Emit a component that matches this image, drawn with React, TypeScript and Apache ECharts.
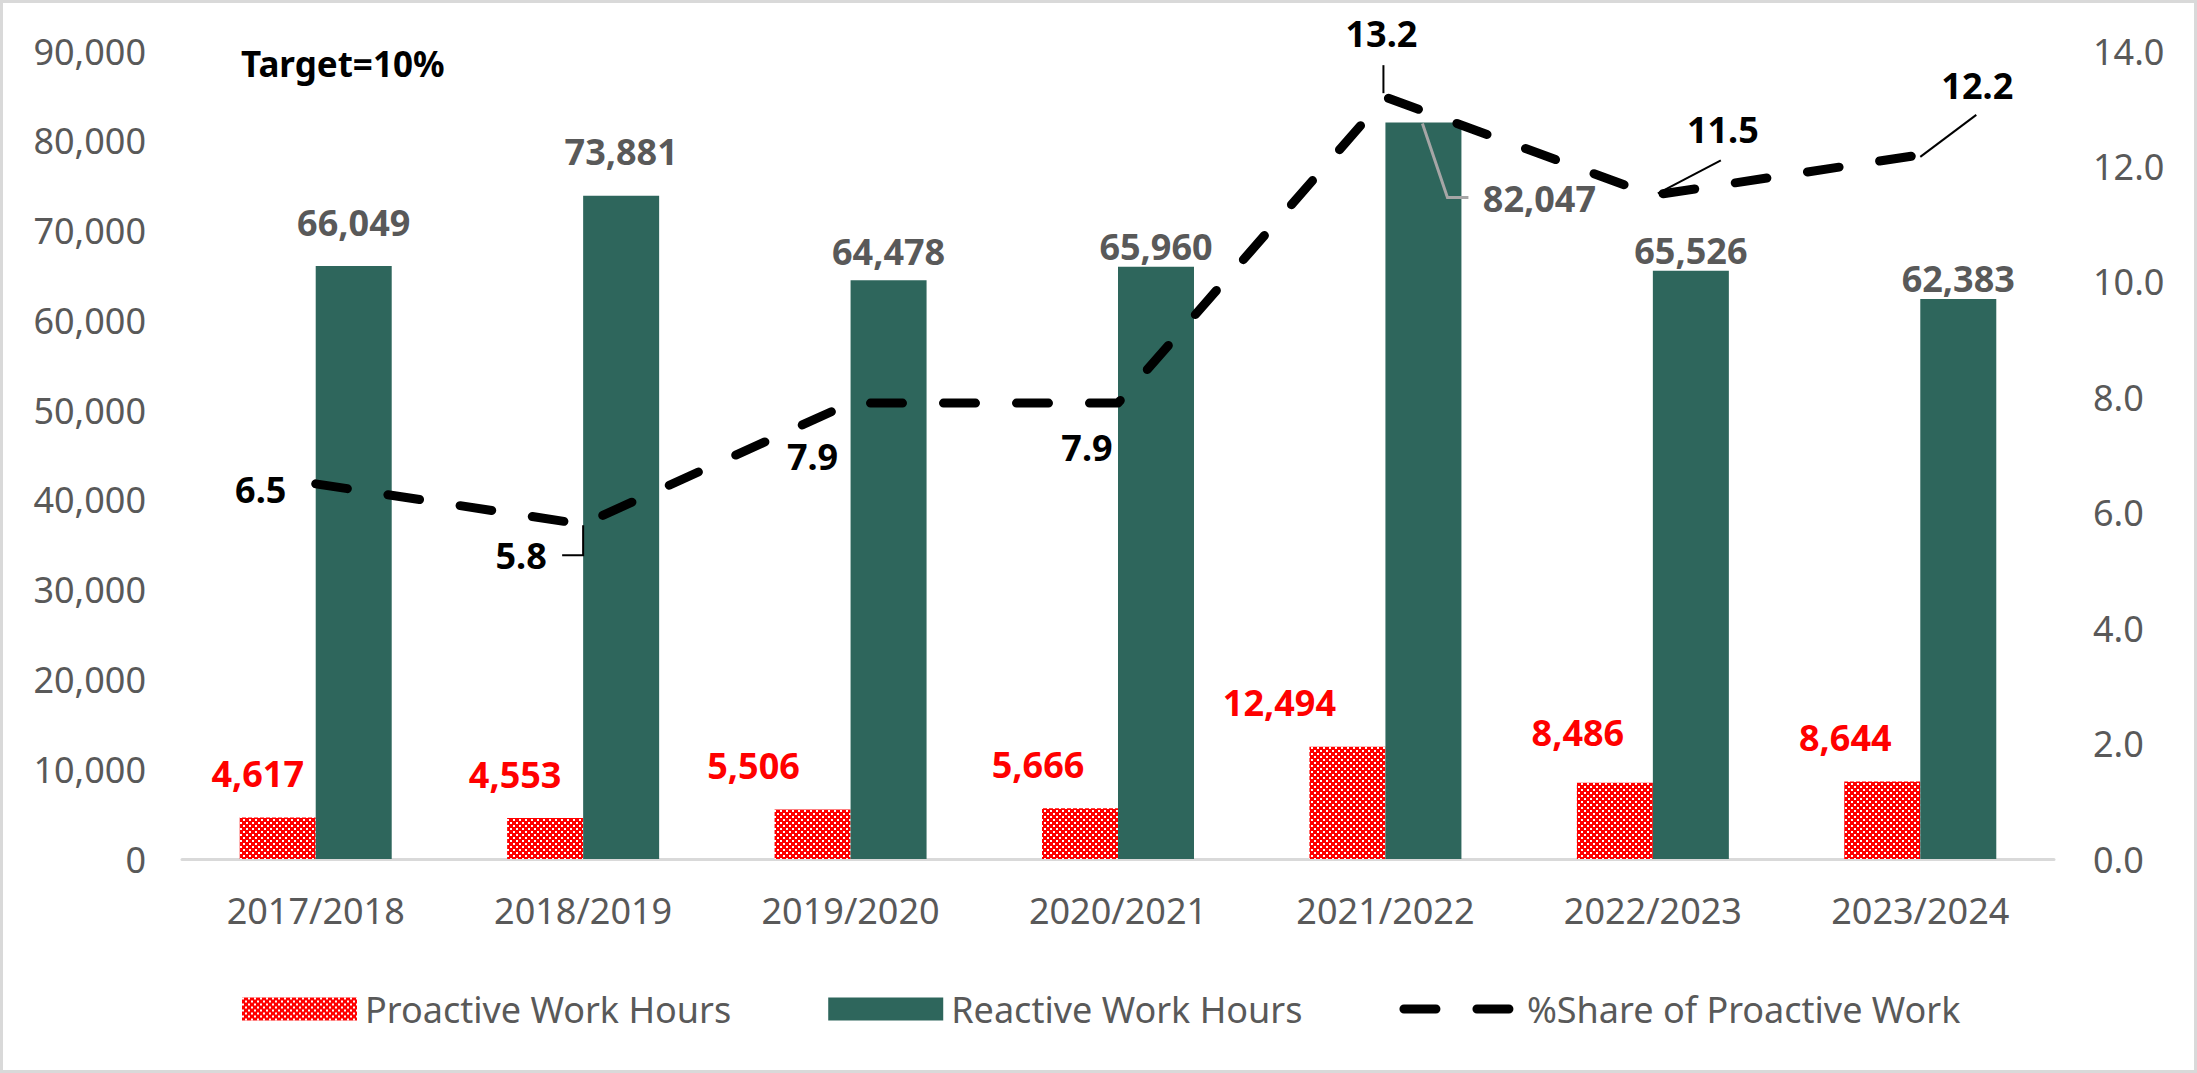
import React, { useEffect, useRef } from 'react';
import * as echarts from 'echarts';

const categories = ['2017/2018', '2018/2019', '2019/2020', '2020/2021', '2021/2022', '2022/2023', '2023/2024'];
const proactiveHours = [4617, 4553, 5506, 5666, 12494, 8486, 8644];
const reactiveHours = [66049, 73881, 64478, 65960, 82047, 65526, 62383];
const proactiveShare = [6.5, 5.8, 7.9, 7.9, 13.2, 11.5, 12.2];

const leftAxisMax = 90000;
const leftAxisStep = 10000;
const rightAxisMax = 14;
const rightAxisStep = 2;

const seriesNames = ['Proactive Work Hours', 'Reactive Work Hours', '%Share of Proactive Work'];
const targetText = 'Target=10%';

// label placement tweaks (pixel offsets, style only)
const proactiveLabelOffsets = [[-20, 0], [-30, 0], [-59, 0], [-42, 0], [-68, 0], [-37, -6], [-37, 0]];
const reactiveLabelOffsets = [[0, -24], [0, -24], [0, -9], [0, 0], [116, 96], [0, 0], [0, 0]];
const shareLabelOffsets = [[-55, 6], [-62, 31], [-38, 53], [-31, 44], [-4, -64], [70, -66], [57, -69]];
// leader-line shapes, as pixel offsets from the data point (style only)
const shareLeaderPaths: (number[][] | null)[] = [
  null,
  [[0, 1], [0, 31], [-21, 31]],
  null,
  null,
  [[-2, -4], [-2, -32]],
  [[5, -2], [68, -35]],
  [[0, 2], [56, -40]],
];
const reactiveLeaderPaths: (number[][] | null)[] = [null, null, null, null, [[37, 1], [62, 75], [83, 75]], null, null];

const FONT = 'Noto Sans';
const GREY = '#595959';
const GREEN = '#2E665C';

function makePattern(): string {
  const c = document.createElement('canvas');
  c.width = 6;
  c.height = 6;
  const ctx = c.getContext('2d')!;
  ctx.fillStyle = '#FF0000';
  ctx.fillRect(0, 0, 6, 6);
  ctx.fillStyle = '#FFFFFF';
  ctx.fillRect(0, 0, 2, 2);
  ctx.fillRect(3, 3, 2, 2);
  return c.toDataURL();
}

const fmt = (v: number) => v.toLocaleString('en-US');

function leaderRenderer(paths: (number[][] | null)[], stroke: string, lineWidth: number) {
  return (params: any, api: any) => {
    const path = paths[params.dataIndex];
    if (!path) return null;
    const c = api.coord([api.value(0), api.value(1)]);
    return {
      type: 'polyline',
      silent: true,
      shape: { points: path.map(([dx, dy]) => [c[0] + dx, c[1] + dy]) },
      style: { stroke, lineWidth, fill: 'none' },
    };
  };
}

export default function App() {
  const ref = useRef<HTMLDivElement>(null);

  useEffect(() => {
    const chart = echarts.init(ref.current!, null, { renderer: 'svg' });
    const pattern: any = { image: makePattern(), repeat: 'repeat', imageWidth: 6, imageHeight: 6 };

    const option: any = {
      animation: false,
      backgroundColor: '#ffffff',
      textStyle: { fontFamily: FONT },
      grid: { left: 182, right: 143, top: 51, bottom: 214, containLabel: false },
      graphic: [
        {
          type: 'rect',
          silent: true,
          z: -10,
          shape: { x: 1.5, y: 1.5, width: 2194, height: 1070 },
          style: { fill: 'none', stroke: '#D9D9D9', lineWidth: 3 },
        },
        {
          type: 'text',
          x: 241,
          y: 63,
          style: {
            text: targetText,
            fontFamily: FONT,
            fontSize: 35,
            fontWeight: 'bold',
            fill: '#000000',
            verticalAlign: 'middle',
            align: 'left',
          },
        },
      ],
      legend: {
        left: 237,
        top: 986,
        itemWidth: 115,
        itemHeight: 23,
        itemGap: 97,
        textStyle: { fontFamily: FONT, fontSize: 36, color: GREY, padding: [0, 0, 0, 3] },
        lineStyle: { width: 9 },
        data: [
          { name: seriesNames[0], icon: 'rect' },
          { name: seriesNames[1], icon: 'rect' },
          { name: seriesNames[2] },
        ],
      },
      xAxis: {
        type: 'category',
        data: categories,
        axisLine: { show: true, lineStyle: { color: '#D9D9D9', width: 3 } },
        axisTick: { show: false },
        axisLabel: { color: GREY, fontSize: 36, fontFamily: FONT, margin: 33 },
      },
      yAxis: [
        {
          type: 'value',
          min: 0,
          max: leftAxisMax,
          interval: leftAxisStep,
          axisLine: { show: false },
          axisTick: { show: false },
          splitLine: { show: false },
          axisLabel: { color: GREY, fontSize: 36, fontFamily: FONT, margin: 36, formatter: (v: number) => fmt(v) },
        },
        {
          type: 'value',
          min: 0,
          max: rightAxisMax,
          interval: rightAxisStep,
          axisLine: { show: false },
          axisTick: { show: false },
          splitLine: { show: false },
          axisLabel: { color: GREY, fontSize: 36, fontFamily: FONT, margin: 39, formatter: (v: number) => v.toFixed(1) },
        },
      ],
      series: [
        {
          name: seriesNames[0],
          type: 'bar',
          barWidth: 76,
          barGap: '0%',
          itemStyle: { color: pattern },
          label: {
            show: true,
            position: 'top',
            distance: 26,
            color: '#FF0000',
            fontWeight: 'bold',
            fontSize: 36,
            fontFamily: FONT,
            formatter: (p: any) => fmt(p.value),
          },
          data: proactiveHours.map((v, i) => ({ value: v, label: { offset: proactiveLabelOffsets[i] } })),
        },
        {
          name: seriesNames[1],
          type: 'bar',
          barWidth: 76,
          barGap: '0%',
          itemStyle: { color: GREEN },
          label: {
            show: true,
            position: 'top',
            distance: 2,
            color: GREY,
            fontWeight: 'bold',
            fontSize: 36,
            fontFamily: FONT,
            formatter: (p: any) => fmt(p.value),
          },
          data: reactiveHours.map((v, i) => ({ value: v, label: { offset: reactiveLabelOffsets[i] } })),
        },
        {
          name: seriesNames[2],
          type: 'line',
          yAxisIndex: 1,
          z: 5,
          symbol: 'circle',
          symbolSize: 1,
          itemStyle: { color: 'rgba(0,0,0,0)' },
          lineStyle: { color: '#000000', width: 9, type: [32, 41], cap: 'round', join: 'round' },
          label: {
            show: true,
            position: 'inside',
            color: '#000000',
            fontWeight: 'bold',
            fontSize: 36,
            fontFamily: FONT,
            formatter: (p: any) => Number(p.value).toFixed(1),
          },
          data: proactiveShare.map((v, i) => ({ value: v, label: { offset: shareLabelOffsets[i] } })),
        },
        {
          name: 'reactiveLeaders',
          type: 'custom',
          yAxisIndex: 0,
          z: 4,
          silent: true,
          renderItem: leaderRenderer(reactiveLeaderPaths, '#A6A6A6', 3),
          data: reactiveHours.map((v, i) => [i, v]),
        },
        {
          name: 'shareLeaders',
          type: 'custom',
          yAxisIndex: 1,
          z: 6,
          silent: true,
          renderItem: leaderRenderer(shareLeaderPaths, '#000000', 2),
          data: proactiveShare.map((v, i) => [i, v]),
        },
      ],
    };

    chart.setOption(option);
    return () => chart.dispose();
  }, []);

  return (
    <div
      ref={ref}
      style={{ position: 'absolute', left: 0, top: 0, width: 2197, height: 1073, background: '#ffffff' }}
    />
  );
}
